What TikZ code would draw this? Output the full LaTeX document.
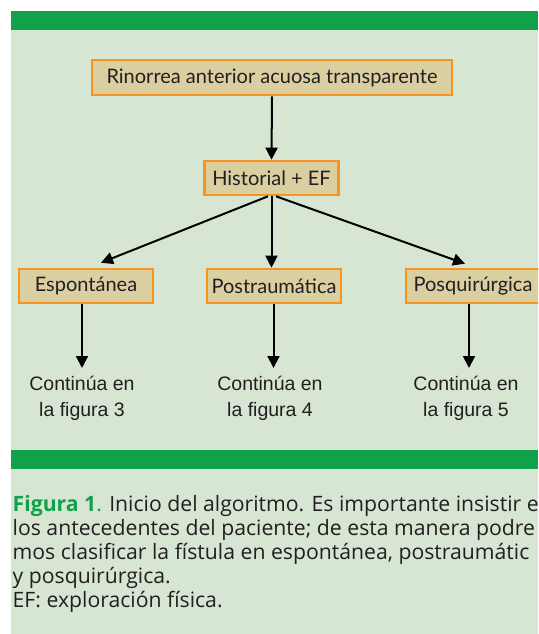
\documentclass[tikz,border=0pt]{standalone}
\usepackage{fontspec}
\setmainfont{Open Sans}
\newfontfamily\helv{Liberation Sans}
\newfontfamily\boxfont{Lato}
\usetikzlibrary{arrows.meta}
\definecolor{bandgreen}{HTML}{12A14B}
\definecolor{bggreen}{HTML}{D6E6D3}
\definecolor{boxfill}{HTML}{D9CFA1}
\definecolor{boxline}{HTML}{F7931E}
\definecolor{captxt}{HTML}{231F20}
\tikzset{
  box/.style={draw=boxline, line width=2.6pt, fill=boxfill, minimum height=34pt,
    minimum width=134pt, inner sep=0pt, font=\boxfont\fontsize{20}{24}\selectfont, text=captxt},
  arr/.style={line width=2pt, -{Triangle[length=12pt,width=12pt]}},
  cont/.style={align=center, inner sep=0pt, font=\helv\fontsize{19.5}{26}\selectfont, text=captxt},
  captline/.style={anchor=base west, inner sep=0pt, font=\fontsize{21.2}{24}\selectfont, text=captxt}
}
\begin{document}
\begin{tikzpicture}[x=1pt,y=-1pt]
\useasboundingbox (0,0) rectangle (538,634);
\clip (0,0) rectangle (538,634);
\fill[white] (0,0) rectangle (538,634);
\fill[bggreen] (11,11) rectangle (538,634);
\fill[bandgreen] (11,11) rectangle (538,30);
\fill[bandgreen] (11,450) rectangle (538,469);

\node[box, minimum width=360pt, minimum height=35pt] (r) at (272,77.5) {Rinorrea anterior acuosa transparente};
\node[box] (h) at (271.5,178) {Historial + EF};
\node[box] (e) at (86,286) {Espontánea};
\node[box] (p) at (274,286) {Postraumática};
\node[box] (q) at (473,286) {Posquirúrgica};

\node[cont, anchor=base] (c1) at (82,416) {Continúa en\\la figura 3};
\node[cont, anchor=base] (c2) at (270,416) {Continúa en\\la figura 4};
\node[cont, anchor=base] (c3) at (466,416) {Continúa en\\la figura 5};

\draw[arr] (r.south) -- (h.north);
\draw[arr] ([xshift=-3.5pt]h.south) -- ([xshift=15pt,yshift=5pt]e.north);
\draw[arr] (h.south) -- (h.south |- p.north);
\draw[arr] ([xshift=4.5pt]h.south) -- ([xshift=-8pt,yshift=4pt]q.north);

\coordinate (t1) at (82,368);
\coordinate (t2) at (273.5,368);
\coordinate (t3) at (469,368);
\draw[arr] (e.south -| t1) -- (t1);
\draw[arr] (p.south -| t2) -- (t2);
\draw[arr] (q.south -| t3) -- (t3);

\node[captline] (l1) at (12.5,511) {\textcolor{bandgreen}{\textbf{Figura 1}.} Inicio del algoritmo. Es importante insistir e};
\node[captline] (l2) at (12.5,535.2) {los antecedentes del paciente; de esta manera podre};
\node[captline] (l3) at (12.5,559.4) {mos clasificar la fístula en espontánea, postraumátic};
\node[captline] (l4) at (12.5,583.6) {y posquirúrgica.};
\node[captline] (l5) at (12.5,607.8) {EF: exploración física.};
\end{tikzpicture}
\end{document}
